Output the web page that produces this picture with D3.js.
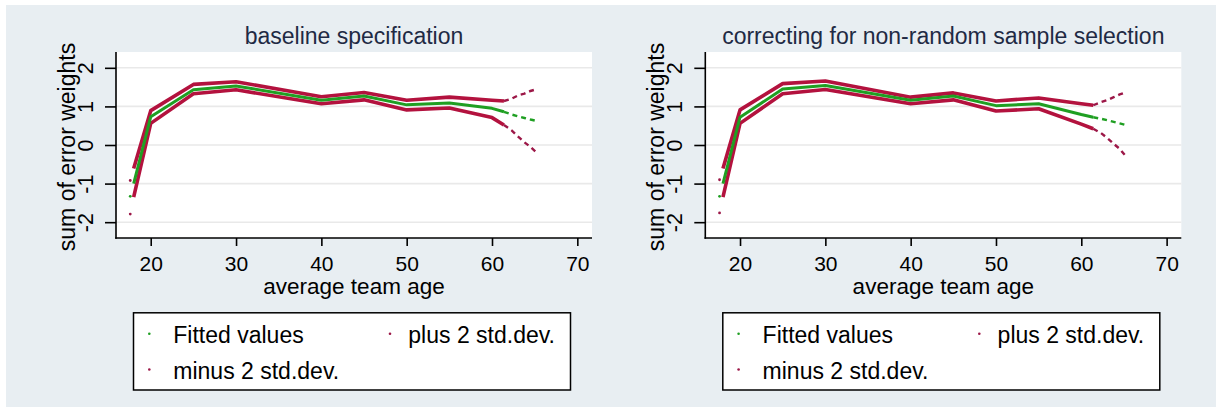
<!DOCTYPE html>
<html>
<head>
<meta charset="utf-8">
<script src="https://cdn.jsdelivr.net/npm/d3@7"></script>
<style>
  html, body { margin: 0; padding: 0; background: #ffffff; }
  svg { display: block; }
  text { font-family: "Liberation Sans", Arial, sans-serif; }
</style>
</head>
<body>
<svg id="chart" width="1222" height="412"></svg>
<script>
// ---- data ----------------------------------------------------------
const panelTitles = ["baseline specification", "correcting for non-random sample selection"];
const xTicks = [20, 30, 40, 50, 60, 70];
const yTicks = [-2, -1, 0, 1, 2];
const legendLabels = ["Fitted values", "plus 2 std.dev.", "minus 2 std.dev."];

// dense range of team ages (observations merge into a solid line)
const agesDense = [18, 20, 25, 30, 40, 45, 50, 55, 60, 61.4];
// sparse upper tail of team ages
const agesTail = [62.3, 63.1, 63.8, 64.5, 65.3];
// single youngest team
const ageFirst = [17.6];

// baseline specification
const fitA = [-1.00, 0.73, 1.43, 1.53, 1.16, 1.27, 1.04, 1.09, 0.95, 0.86];
const upA  = [-0.61, 0.89, 1.57, 1.64, 1.25, 1.36, 1.16, 1.24, 1.16, 1.14];
const loA  = [-1.35, 0.56, 1.33, 1.43, 1.07, 1.17, 0.91, 0.96, 0.71, 0.52];
const fitTailA = [0.79, 0.74, 0.70, 0.66, 0.62];
const upTailA  = [1.20, 1.29, 1.33, 1.40, 1.45];
const loTailA  = [0.38, 0.21, 0.07, -0.05, -0.21];
const fitFirstA = [-1.33];
const upFirstA  = [-0.92];
const loFirstA  = [-1.79];

// correcting for non-random sample selection
const fitB = [-1.00, 0.72, 1.45, 1.54, 1.16, 1.27, 1.02, 1.07, 0.79, 0.72];
const upB  = [-0.61, 0.91, 1.59, 1.66, 1.24, 1.35, 1.14, 1.22, 1.07, 1.03];
const loB  = [-1.35, 0.56, 1.33, 1.44, 1.07, 1.17, 0.88, 0.94, 0.54, 0.42];
const fitTailB = [0.68, 0.64, 0.60, 0.56, 0.51];
const upTailB  = [1.11, 1.17, 1.24, 1.31, 1.37];
const loTailB  = [0.31, 0.17, 0.03, -0.10, -0.31];
const fitFirstB = [-1.33];
const upFirstB  = [-0.90];
const loFirstB  = [-1.76];

// ---- layout --------------------------------------------------------
const W = 1222, H = 412;
const panelShift = 589.3;
const plot = { left: 116, right: 592, top: 52, bottom: 238 };
const GREEN = "#1f9f22";
const RED = "#b3123e";
const TAIL_RED = "#9c1747";
const plainNum = d => String(d);   // hyphen-minus, as printed on the axes

const svg = d3.select("#chart");

// outer graph region
svg.append("rect")
  .attr("x", 6).attr("y", 5)
  .attr("width", W - 12).attr("height", H - 10)
  .attr("fill", "#e8eef2");

const x = d3.scaleLinear().domain([15.93, 71.72]).range([plot.left, plot.right]);
const y = d3.scaleLinear().domain([-2.41, 2.41]).range([plot.bottom, plot.top]);

const line = d3.line().x(d => x(d[0])).y(d => y(d[1]));

function pairs(ages, vals) { return ages.map((a, i) => [a, vals[i]]); }

const panels = [
  { title: panelTitles[0], fit: fitA, up: upA, lo: loA,
    fitTail: fitTailA, upTail: upTailA, loTail: loTailA,
    fitFirst: fitFirstA, upFirst: upFirstA, loFirst: loFirstA },
  { title: panelTitles[1], fit: fitB, up: upB, lo: loB,
    fitTail: fitTailB, upTail: upTailB, loTail: loTailB,
    fitFirst: fitFirstB, upFirst: upFirstB, loFirst: loFirstB }
];

panels.forEach((p, pi) => {
  const g = svg.append("g").attr("transform", `translate(${pi * panelShift},0)`);

  // plot region
  g.append("rect")
    .attr("x", plot.left).attr("y", plot.top)
    .attr("width", plot.right - plot.left).attr("height", plot.bottom - plot.top)
    .attr("fill", "#ffffff");

  // horizontal grid
  g.append("g").selectAll("line").data(yTicks).join("line")
    .attr("x1", plot.left).attr("x2", plot.right)
    .attr("y1", d => y(d)).attr("y2", d => y(d))
    .attr("stroke", "#e9e9e9").attr("stroke-width", 1.6);

  // title
  g.append("text")
    .attr("x", (plot.left + plot.right) / 2).attr("y", 43.5)
    .attr("text-anchor", "middle")
    .attr("font-size", 23).attr("fill", "#1f2a44")
    .text(p.title);

  // series: solid dense part, dashed sparse tail, lone first point
  const series = [
    { dense: p.up, tail: p.upTail, first: p.upFirst, color: RED, tailColor: TAIL_RED, w: 3.6 },
    { dense: p.lo, tail: p.loTail, first: p.loFirst, color: RED, tailColor: TAIL_RED, w: 3.6 },
    { dense: p.fit, tail: p.fitTail, first: p.fitFirst, color: GREEN, tailColor: GREEN, w: 3.0 }
  ];
  series.forEach(s => {
    const dense = pairs(agesDense, s.dense);
    g.append("path")
      .attr("d", line(dense))
      .attr("fill", "none").attr("stroke", s.color)
      .attr("stroke-width", s.w).attr("stroke-linejoin", "round");
    const tail = [dense[dense.length - 1]].concat(pairs(agesTail, s.tail));
    g.append("path")
      .attr("d", line(tail))
      .attr("fill", "none").attr("stroke", s.tailColor)
      .attr("stroke-width", 2.4).attr("stroke-dasharray", "5,4");
    g.selectAll(null).data(pairs(ageFirst, s.first)).join("circle")
      .attr("cx", d => x(d[0])).attr("cy", d => y(d[1]))
      .attr("r", 1.4).attr("fill", s.tailColor);
  });

  // y axis
  const yAxis = g.append("g")
    .attr("transform", `translate(${plot.left},0)`)
    .call(d3.axisLeft(y).tickValues(yTicks).tickSize(11).tickFormat(plainNum));
  yAxis.select(".domain").remove();
  yAxis.selectAll(".tick line").attr("stroke", "#000").attr("stroke-width", 1.6);
  yAxis.selectAll(".tick text")
    .attr("font-size", 21.5).attr("fill", "#000")
    .attr("font-family", "Liberation Sans, Arial, sans-serif")
    .attr("text-anchor", "middle").attr("dy", null)
    .attr("x", null)
    .attr("transform", "translate(-23,0) rotate(-90)");
  g.append("line")
    .attr("x1", plot.left).attr("x2", plot.left)
    .attr("y1", plot.top).attr("y2", plot.bottom + 0.8)
    .attr("stroke", "#000").attr("stroke-width", 1.6);

  // x axis
  const xAxis = g.append("g")
    .attr("transform", `translate(0,${plot.bottom})`)
    .call(d3.axisBottom(x).tickValues(xTicks).tickSize(8).tickFormat(plainNum));
  xAxis.select(".domain").remove();
  xAxis.selectAll(".tick line").attr("stroke", "#000").attr("stroke-width", 1.6);
  xAxis.selectAll(".tick text")
    .attr("font-size", 21).attr("fill", "#000")
    .attr("font-family", "Liberation Sans, Arial, sans-serif")
    .attr("dy", null).attr("y", 33);
  g.append("line")
    .attr("x1", plot.left - 0.8).attr("x2", plot.right)
    .attr("y1", plot.bottom).attr("y2", plot.bottom)
    .attr("stroke", "#000").attr("stroke-width", 1.6);

  // axis titles
  g.append("text")
    .attr("x", (plot.left + plot.right) / 2).attr("y", 294)
    .attr("text-anchor", "middle").attr("font-size", 22.5).attr("fill", "#000")
    .text("average team age");
  g.append("text")
    .attr("transform", `translate(75,147) rotate(-90)`)
    .attr("text-anchor", "middle").attr("font-size", 23).attr("fill", "#000")
    .text("sum of error weights");

  // legend
  const lg = g.append("g");
  lg.append("rect")
    .attr("x", 133.5).attr("y", 312.8)
    .attr("width", 437).attr("height", 77.2)
    .attr("fill", "#ffffff").attr("stroke", "#000").attr("stroke-width", 1.5);
  const items = [
    { label: legendLabels[0], color: GREEN, mx: 149.3, tx: 173.3, ty: 342.7 },
    { label: legendLabels[1], color: TAIL_RED, mx: 390, tx: 408.3, ty: 342.7 },
    { label: legendLabels[2], color: TAIL_RED, mx: 149.3, tx: 173.3, ty: 378.5 }
  ];
  items.forEach(it => {
    lg.append("circle").attr("cx", it.mx).attr("cy", it.ty - 9)
      .attr("r", 1.3).attr("fill", it.color);
    lg.append("text").attr("x", it.tx).attr("y", it.ty)
      .attr("font-size", 23).attr("fill", "#000").text(it.label);
  });
});
</script>
</body>
</html>
